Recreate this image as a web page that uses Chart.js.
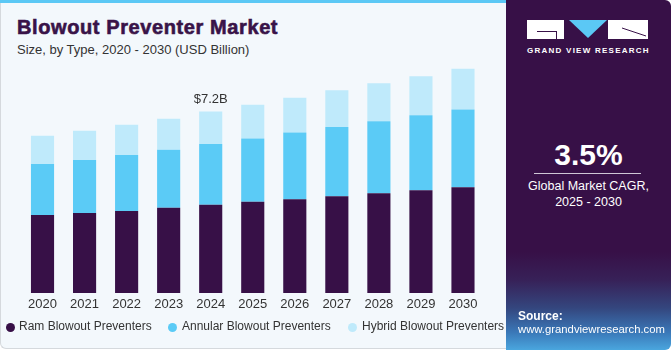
<!DOCTYPE html>
<html><head><meta charset="utf-8">
<script src="https://cdn.jsdelivr.net/npm/chart.js@4/dist/chart.umd.min.js"></script>
<style>
html,body{margin:0;padding:0;width:671px;height:350px;overflow:hidden;background:#fff;font-family:"Liberation Sans",Arial,sans-serif;}
#main{position:absolute;left:0;top:0;width:506px;height:349px;background:#f3f8fc;border:1px solid #d5d9dd;border-right:none;border-radius:0 0 0 6px;box-sizing:border-box;}
#stripe{position:absolute;left:0;top:0;width:506px;height:3px;background:#5bc8f5;}
#title{position:absolute;left:17px;top:16px;font-size:20px;font-weight:bold;color:#391348;letter-spacing:0.6px;-webkit-text-stroke:0.6px #391348;}
#sub{position:absolute;left:17px;top:42px;font-size:13px;color:#333;}
#cv{position:absolute;left:0;top:0;}
#legend{position:absolute;left:0;top:319px;font-size:12px;color:#333;}
.li{position:absolute;white-space:nowrap;top:0;}
.dot{position:absolute;width:9px;height:9px;border-radius:50%;top:4px;}
#panel{position:absolute;left:506px;top:0;width:165px;height:350px;border-radius:0 6px 6px 0;
background:linear-gradient(to bottom,#371047 0%,#371047 72%,#372158 80%,#34467e 88%,#3a78b8 95%,#4aa6de 100%);overflow:hidden;}
.w{position:absolute;color:#fff;white-space:nowrap;}
</style></head><body>
<div id="main"></div>
<div id="stripe"></div>
<div id="title">Blowout Preventer Market</div>
<div id="sub">Size, by Type, 2020 - 2030 (USD Billion)</div>
<canvas id="cv" width="506" height="350"></canvas>
<div id="legend"></div>
<div id="panel">
  <div style="position:absolute;left:21px;top:20px;width:37px;height:19px;background:#fff;"></div>
  <div style="position:absolute;left:31px;top:31px;width:20px;height:1px;background:#371047;"></div>
  <div style="position:absolute;left:50px;top:31px;width:1px;height:8px;background:#371047;"></div>
  <svg style="position:absolute;left:63px;top:20px" width="38" height="18"><polygon points="0,0 38,0 19,18" fill="#5bc8f5"/></svg>
  <div style="position:absolute;left:102px;top:20px;width:40px;height:19px;background:#fff;"></div>
  <svg style="position:absolute;left:102px;top:20px" width="40" height="19"><line x1="14" y1="8" x2="38" y2="16" stroke="#371047" stroke-width="1"/></svg>
  <div class="w" style="left:21px;top:46px;font-size:8px;font-weight:bold;letter-spacing:1.25px;">GRAND VIEW RESEARCH</div>
  <div class="w" style="left:0;width:165px;text-align:center;top:138px;font-size:30px;font-weight:bold;">3.5%</div>
  <div style="position:absolute;left:28px;top:173px;width:107px;height:1px;background:#cfc6d6;"></div>
  <div class="w" style="left:0;width:165px;text-align:center;top:178px;font-size:12.5px;line-height:16px;">Global Market CAGR,<br>2025 - 2030</div>
  <div class="w" style="left:12px;top:309px;font-size:12px;font-weight:bold;">Source:</div>
  <div class="w" style="left:12px;top:323px;font-size:11.3px;">www.grandviewresearch.com</div>
</div>
<script>
const categories = ["2020","2021","2022","2023","2024","2025","2026","2027","2028","2029","2030"];
const ramValues      = [3.11,3.19,3.27,3.39,3.51,3.63,3.73,3.85,3.97,4.09,4.21];
const annularValues  = [2.03,2.11,2.23,2.31,2.42,2.52,2.66,2.76,2.87,2.99,3.10];
const hybridValues   = [1.12,1.16,1.20,1.24,1.30,1.35,1.39,1.46,1.51,1.55,1.62];
const seriesNames = ["Ram Blowout Preventers","Annular Blowout Preventers","Hybrid Blowout Preventers"];
const seriesColors = ["#371047","#5bcbf6","#bfeafb"];
const annotation = {index:4, text:"$7.2B"};

// legend
const legendPos = [{d:6,t:19},{d:168,t:182},{d:348,t:362}];
const lg = document.getElementById('legend');
seriesNames.forEach((n,i)=>{
  const d=document.createElement('div');d.className='dot';d.style.left=legendPos[i].d+'px';d.style.background=seriesColors[i];lg.appendChild(d);
  const t=document.createElement('div');t.className='li';t.style.left=legendPos[i].t+'px';t.textContent=n;lg.appendChild(t);
});

const labelPlugin = {
  id:'lbl',
  afterDatasetsDraw(chart){
    const ctx=chart.ctx, xs=chart.scales.x, ys=chart.scales.y;
    const i=annotation.index;
    const total=ramValues[i]+annularValues[i]+hybridValues[i];
    ctx.save();
    ctx.font='13px "Liberation Sans", Arial, sans-serif';
    ctx.fillStyle='#333';ctx.textAlign='center';ctx.textBaseline='bottom';
    ctx.fillText(annotation.text, xs.getPixelForValue(i), ys.getPixelForValue(total)-6);
    ctx.restore();
  }
};

new Chart(document.getElementById('cv'),{
  type:'bar',
  data:{labels:categories,datasets:[
    {label:seriesNames[0],data:ramValues,backgroundColor:seriesColors[0]},
    {label:seriesNames[1],data:annularValues,backgroundColor:seriesColors[1]},
    {label:seriesNames[2],data:hybridValues,backgroundColor:seriesColors[2]}
  ]},
  options:{
    responsive:false,animation:false,
    layout:{padding:{left:21.5,right:22,top:67,bottom:0}},
    datasets:{bar:{barPercentage:0.55,categoryPercentage:1.0}},
    plugins:{legend:{display:false},tooltip:{enabled:false}},
    scales:{
      x:{stacked:true,grid:{display:false,drawTicks:false},border:{display:false},
         ticks:{color:'#333',font:{size:13,family:'"Liberation Sans", Arial, sans-serif'},padding:4,maxRotation:0,autoSkip:false},
         afterFit(s){s.height=57;}},
      y:{stacked:true,display:false,min:0,max:9}
    }
  },
  plugins:[labelPlugin]
});
</script>
</body></html>
